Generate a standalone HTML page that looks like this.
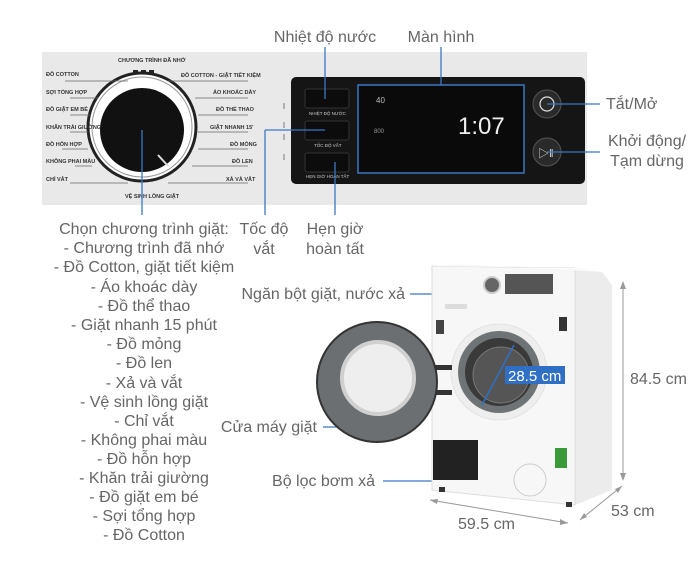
<!DOCTYPE html>
<html><head><meta charset="utf-8"><style>
html,body{margin:0;padding:0;background:#fff;}
svg{display:block;}
text{font-family:"Liberation Sans","Noto Sans CJK SC",sans-serif;}
</style></head><body>
<svg width="700" height="566" viewBox="0 0 700 566" xmlns="http://www.w3.org/2000/svg">
<rect x="42" y="52" width="545" height="153" fill="#e9e9e9"/>
<circle cx="142" cy="127" r="54" fill="#fff" stroke="#222" stroke-width="3"/>
<circle cx="142" cy="127" r="50" fill="none" stroke="#999" stroke-width="1"/>
<circle cx="142" cy="130" r="42" fill="#111"/>
<line x1="158" y1="155" x2="168" y2="166" stroke="#ddd" stroke-width="2"/>
<rect x="133" y="70" width="5" height="3" fill="#222"/><rect x="141" y="70" width="5" height="3" fill="#222"/><rect x="149" y="70" width="5" height="3" fill="#222"/>
<g font-size="5.5" fill="#333" font-weight="bold">
<text x="118" y="62">CHƯƠNG TRÌNH ĐÃ NHỚ</text>
<text x="46" y="76">ĐỒ COTTON</text><text x="46" y="94">SỢI TỔNG HỢP</text><text x="46" y="111">ĐỒ GIẶT EM BÉ</text><text x="46" y="129">KHĂN TRẢI GIƯỜNG</text><text x="46" y="146">ĐỒ HỖN HỢP</text><text x="46" y="163">KHÔNG PHAI MÀU</text><text x="46" y="181">CHỈ VẮT</text>
<text x="181" y="77">ĐỒ COTTON - GIẶT TIẾT KIỆM</text><text x="213" y="94">ÁO KHOÁC DÀY</text><text x="216" y="111">ĐỒ THỂ THAO</text><text x="210" y="129">GIẶT NHANH 15'</text><text x="230" y="146">ĐỒ MỎNG</text><text x="232" y="163">ĐỒ LEN</text><text x="226" y="181">XẢ VÀ VẮT</text>
<text x="125" y="198">VỆ SINH LỒNG GIẶT</text>
</g>
<g stroke="#666" stroke-width="0.8">
<line x1="65" y1="81" x2="128" y2="81"/><line x1="70" y1="98" x2="98" y2="98"/><line x1="70" y1="115" x2="90" y2="115"/><line x1="70" y1="132" x2="88" y2="132"/><line x1="62" y1="149" x2="88" y2="149"/><line x1="75" y1="166" x2="92" y2="166"/><line x1="70" y1="183" x2="128" y2="183"/>
<line x1="168" y1="81" x2="248" y2="81"/><line x1="195" y1="98" x2="248" y2="98"/><line x1="198" y1="115" x2="248" y2="115"/><line x1="198" y1="132" x2="248" y2="132"/><line x1="198" y1="149" x2="248" y2="149"/><line x1="192" y1="166" x2="248" y2="166"/><line x1="168" y1="183" x2="248" y2="183"/>
</g>
<rect x="291" y="77" width="294" height="107" rx="5" fill="#151515"/>
<rect x="305" y="89" width="44" height="19" rx="2" fill="#0c0c0c" stroke="#333"/>
<rect x="305" y="121" width="44" height="19" rx="2" fill="#0c0c0c" stroke="#333"/>
<rect x="305" y="153" width="44" height="19" rx="2" fill="#0c0c0c" stroke="#333"/>
<g font-size="4.5" fill="#ccc"><text x="309" y="115">NHIỆT ĐỘ NƯỚC</text><text x="314" y="147">TỐC ĐỘ VẮT</text><text x="306" y="178">HẸN GIỜ HOÀN TẤT</text></g>
<g stroke="#777" stroke-width="1"><line x1="284" y1="103" x2="284" y2="109"/><line x1="284" y1="122" x2="284" y2="128"/><line x1="284" y1="134" x2="284" y2="140"/><line x1="284" y1="154" x2="284" y2="160"/></g>
<rect x="358" y="85" width="166" height="88" fill="#0a0a0a" stroke="#3a78c2" stroke-width="1.5"/>
<text x="376" y="103" font-size="8" fill="#bbb">40</text>
<text x="374" y="133" font-size="6" fill="#999">800</text>
<text x="458" y="134" font-size="24" fill="#eee" font-family="Liberation Mono,monospace">1:07</text>
<circle cx="547" cy="104" r="14" fill="#2a2a2a" stroke="#555"/>
<circle cx="547" cy="104" r="7" fill="none" stroke="#ddd" stroke-width="1.2"/>
<circle cx="547" cy="152" r="14" fill="#2a2a2a" stroke="#555"/>
<text x="538" y="157" font-size="11" fill="#ddd">▷‖</text>
<g stroke="#3a78c2" stroke-width="1.3" fill="none">
<line x1="325" y1="47" x2="325" y2="99"/>
<line x1="441" y1="47" x2="441" y2="85"/>
<line x1="547" y1="104" x2="600" y2="104"/>
<line x1="547" y1="152" x2="600" y2="152"/>
<line x1="142" y1="130" x2="142" y2="215"/>
<line x1="265" y1="130" x2="325" y2="130"/><line x1="265" y1="130" x2="265" y2="215"/>
<line x1="335" y1="162" x2="335" y2="215"/>
<line x1="410" y1="294" x2="446" y2="294"/>
<line x1="323" y1="427" x2="367" y2="427"/>
<line x1="383" y1="481" x2="530" y2="481"/>
</g>
<g font-size="16" fill="#666">
<text x="325" y="42" text-anchor="middle">Nhiệt độ nước</text>
<text x="441" y="42" text-anchor="middle">Màn hình</text>
<text x="606" y="109">Tắt/Mở</text>
<text x="647" y="146" text-anchor="middle">Khởi động/</text>
<text x="647" y="166" text-anchor="middle">Tạm dừng</text>
<text x="264" y="234" text-anchor="middle">Tốc độ</text><text x="264" y="254" text-anchor="middle">vắt</text>
<text x="335" y="234" text-anchor="middle">Hẹn giờ</text><text x="335" y="254" text-anchor="middle">hoàn tất</text>
<g text-anchor="middle">
<text x="144" y="234">Chọn chương trình giặt:</text>
<text x="144" y="253">- Chương trình đã nhớ</text>
<text x="144" y="272">- Đồ Cotton, giặt tiết kiệm</text>
<text x="144" y="292">- Áo khoác dày</text>
<text x="144" y="311">- Đồ thể thao</text>
<text x="144" y="330">- Giặt nhanh 15 phút</text>
<text x="144" y="349">- Đồ mỏng</text>
<text x="144" y="368">- Đồ len</text>
<text x="144" y="388">- Xả và vắt</text>
<text x="144" y="407">- Vệ sinh lồng giặt</text>
<text x="144" y="426">- Chỉ vắt</text>
<text x="144" y="445">- Không phai màu</text>
<text x="144" y="464">- Đồ hỗn hợp</text>
<text x="144" y="483">- Khăn trải giường</text>
<text x="144" y="502">- Đồ giặt em bé</text>
<text x="144" y="521">- Sợi tổng hợp</text>
<text x="144" y="540">- Đồ Cotton</text>
</g>
<text x="405" y="299" text-anchor="end">Ngăn bột giặt, nước xả</text>
<text x="317" y="432" text-anchor="end">Cửa máy giặt</text>
<text x="375" y="486" text-anchor="end">Bộ lọc bơm xả</text>
<text x="630" y="384">84.5 cm</text>
<text x="458" y="529">59.5 cm</text>
<text x="611" y="516">53 cm</text>
</g>
<polygon points="575,268 602,272 612,285 612,490 575,505" fill="#ececec"/>
<polygon points="432,266 575,268 575,505 432,490" fill="#f7f7f7" stroke="#ddd"/>
<polygon points="432,266 575,268 602,272 460,264" fill="#fafafa"/>
<rect x="505" y="274" width="48" height="20" fill="#555"/>
<circle cx="492" cy="285" r="8" fill="#666" stroke="#ccc" stroke-width="2"/>
<rect x="445" y="304" width="22" height="5" fill="#ddd"/>
<rect x="436" y="320" width="8" height="14" fill="#444"/>
<rect x="559" y="317" width="8" height="14" fill="#333"/>
<circle cx="499" cy="372" r="48" fill="#eee" stroke="#e2e2e2"/>
<circle cx="499" cy="372" r="41" fill="#6e7476"/>
<circle cx="499" cy="372" r="34" fill="#3a3a3a"/>
<circle cx="501" cy="375" r="28" fill="#555" stroke="#777"/>
<rect x="433" y="440" width="45" height="40" fill="#222"/>
<rect x="555" y="448" width="12" height="20" fill="#3a9a3a"/>
<circle cx="530" cy="480" r="16" fill="none" stroke="#ccc"/>
<rect x="439" y="487" width="6" height="5" fill="#333"/><rect x="566" y="502" width="6" height="5" fill="#333"/>
<rect x="430" y="365" width="22" height="5" fill="#333"/><rect x="430" y="390" width="22" height="5" fill="#333"/>
<circle cx="377" cy="382" r="60" fill="#6b6f72" stroke="#333" stroke-width="2"/>
<circle cx="378" cy="378" r="36" fill="#eee" stroke="#d0d0d0" stroke-width="4"/>
<line x1="482" y1="405" x2="514" y2="345" stroke="#2f6fc4" stroke-width="1.5"/>
<rect x="505" y="366" width="60" height="18" fill="#2f6fc4"/>
<text x="508" y="381" font-size="15" fill="#fff">28.5 cm</text>
<g stroke="#999" stroke-width="1">
<line x1="623" y1="282" x2="623" y2="480"/>
<line x1="430" y1="500" x2="568" y2="523"/>
<line x1="580" y1="520" x2="622" y2="486"/>
</g>
<g fill="#999">
<polygon points="623,281 620,289 626,289"/><polygon points="623,481 620,473 626,473"/>
<polygon points="430,500 438,499 437,504"/><polygon points="568,523 560,519 560,525"/>
<polygon points="580,520 584,513 587,517"/><polygon points="622,486 615,489 618,493"/>
</g>
</svg>
</body></html>
